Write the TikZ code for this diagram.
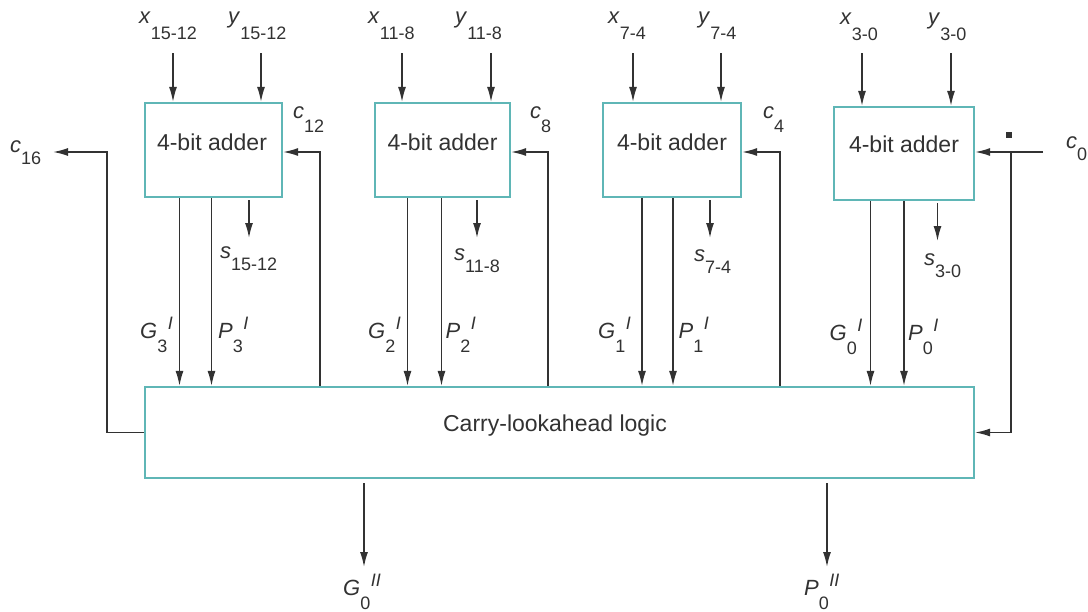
\documentclass[tikz,border=0pt]{standalone}
\usepackage{fontspec}
\setmainfont{Liberation Sans}
\usetikzlibrary{arrows.meta}
\definecolor{tealbox}{RGB}{95,182,182}
\definecolor{ink}{RGB}{50,50,50}
\newcommand\subsz{\fontsize{18}{18}\selectfont}
\newcommand\sig[3][14pt]{\textit{#2}\raisebox{-#1}{\subsz #3}}
\newcommand\gpl[3]{\textit{#1}\raisebox{-14pt}{\subsz #2}\kern0.5pt\raisebox{9pt}{\subsz\textit{#3}}}
\begin{document}
\begin{tikzpicture}[x=1pt,y=-1pt,
  adder/.style={draw=tealbox,line width=2.2pt,fill=white,minimum width=137pt,minimum height=94pt,inner sep=0pt},
  wire/.style={draw=ink,line width=1.5pt},
  arr/.style={wire,-{Latex[length=15pt,width=8pt]}},
  lbl/.style={anchor=base west,inner sep=0pt,text=ink,font=\fontsize{22}{22}\selectfont},
  boxtext/.style={anchor=base,inner sep=0pt,text=ink,font=\fontsize{23}{23}\selectfont}]
\useasboundingbox (0,0) rectangle (1088,611);

% boxes
\node[adder] (B3) at (213.5,150) {};
\node[adder,minimum width=135pt] (B2) at (442.5,150) {};
\node[adder,minimum width=138pt] (B1) at (672,150) {};
\node[adder,minimum width=140pt,minimum height=93pt] (B0) at (904,153.5) {};
\node[adder,minimum width=829pt,minimum height=91pt] (CLA) at (559.5,432.5) {};

\node[boxtext] (T3) at ([xshift=-1.5pt]B3.center) {4-bit adder};
\node[boxtext] (T2) at (B2.center) {4-bit adder};
\node[boxtext] (T1) at (B1.center) {4-bit adder};
\node[boxtext] (T0) at ([yshift=1.5pt]B0.center) {4-bit adder};
\node[boxtext] (TC) at ([xshift=-4.5pt,yshift=1.5pt]CLA.center) {Carry-lookahead logic};

% operand inputs
\foreach \bx/\xx/\yy in {B3/173/261, B2/402/491, B1/633/721, B0/862/951} {
  \coordinate (\bx xin) at (\xx,53);
  \coordinate (\bx yin) at (\yy,53);
  \draw[arr] (\bx xin) -- (\bx xin |- \bx.north);
  \draw[arr] (\bx yin) -- (\bx yin |- \bx.north);
}

% G and P lines
\foreach \bx/\g/\p in {B3/179.5/211.5, B2/407.5/441.5, B1/642/673, B0/870.5/904} {
  \coordinate (\bx g) at (\g,0);
  \coordinate (\bx p) at (\p,0);
  \draw[arr] (\bx g |- \bx.south) -- (\bx g |- CLA.north);
  \draw[arr] (\bx p |- \bx.south) -- (\bx p |- CLA.north);
}

% sum outputs
\foreach \bx/\s/\ys in {B3/249/200, B2/477/200, B1/710/200, B0/937.5/203} {
  \coordinate (\bx ss) at (\s,\ys);
  \coordinate (\bx se) at (\s,\ys+38);
  \draw[arr] (\bx ss) -- (\bx se);
}

% carries from CLA into adders
\coordinate (c12x) at (320,0);
\coordinate (c8x) at (548,0);
\coordinate (c4x) at (780,0);
\draw[arr] (c12x |- CLA.north) |- ([yshift=-2pt]B3.east);
\draw[arr] (c8x |- CLA.north) |- ([yshift=-2pt]B2.east);
\draw[arr] (c4x |- CLA.north) |- ([yshift=-2pt]B1.east);

% c0
\coordinate (c0in) at (1043,152);
\coordinate (c0j) at (1011,152);
\draw[arr] (c0in) -- (c0in -| B0.east);
\draw[arr] (c0j) |- (CLA.east);
\fill[ink] (1006,132) rectangle (1012,138);

% c16
\coordinate (c16j) at (107,152);
\coordinate (c16out) at (53,152);
\draw[arr] (CLA.west) -| (c16j) -- (c16out);

% group outputs
\coordinate (G0s) at (364,483);
\coordinate (G0e) at (364,567);
\coordinate (P0s) at (827,483);
\coordinate (P0e) at (827,567);
\draw[arr] (G0s) -- (G0e);
\draw[arr] (P0s) -- (P0e);

% labels: operands
\node[lbl] (lx3) at (139,23) {\sig[16pt]{x}{15-12}};
\node[lbl] (ly3) at (228,23) {\sig[16pt]{y}{15-12}};
\node[lbl] (lx2) at (368,23) {\sig[16pt]{x}{11-8}};
\node[lbl] (ly2) at (455,23) {\sig[16pt]{y}{11-8}};
\node[lbl] (lx1) at (608,23) {\sig[16pt]{x}{7-4}};
\node[lbl] (ly1) at (698,23) {\sig[16pt]{y}{7-4}};
\node[lbl] (lx0) at (840,24) {\sig[16pt]{x}{3-0}};
\node[lbl] (ly0) at (928,24) {\sig[16pt]{y}{3-0}};

% labels: carries
\node[lbl] (lc12) at (293,118) {\sig{c}{12}};
\node[lbl] (lc8) at (530,118) {\sig{c}{8}};
\node[lbl] (lc4) at (763,118) {\sig{c}{4}};
\node[lbl] (lc0) at (1066,148) {\sig[12pt]{c}{0}};
\node[lbl] (lc16) at (10,152) {\sig[12pt]{c}{16}};

% labels: sums
\node[lbl] (ls3) at (220,258) {\sig[12pt]{s}{15-12}};
\node[lbl] (ls2) at (454,260) {\sig[12pt]{s}{11-8}};
\node[lbl] (ls1) at (694,261) {\sig[12pt]{s}{7-4}};
\node[lbl] (ls0) at (924,265) {\sig[12pt]{s}{3-0}};

% labels: G and P
\node[lbl] (lg3) at (140,338) {\gpl{G}{3}{I}};
\node[lbl] (lp3) at (218,338) {\gpl{P}{3}{I}};
\node[lbl] (lg2) at (368,338) {\gpl{G}{2}{I}};
\node[lbl] (lp2) at (445.5,338) {\gpl{P}{2}{I}};
\node[lbl] (lg1) at (598,338) {\gpl{G}{1}{I}};
\node[lbl] (lp1) at (678.5,338) {\gpl{P}{1}{I}};
\node[lbl] (lg0) at (829.5,340) {\gpl{G}{0}{I}};
\node[lbl] (lp0) at (908,340) {\gpl{P}{0}{I}};
\node[lbl] (lGo) at (343,595) {\gpl{G}{0}{II}};
\node[lbl] (lPo) at (804,595) {\gpl{P}{0}{II}};
\end{tikzpicture}
\end{document}
